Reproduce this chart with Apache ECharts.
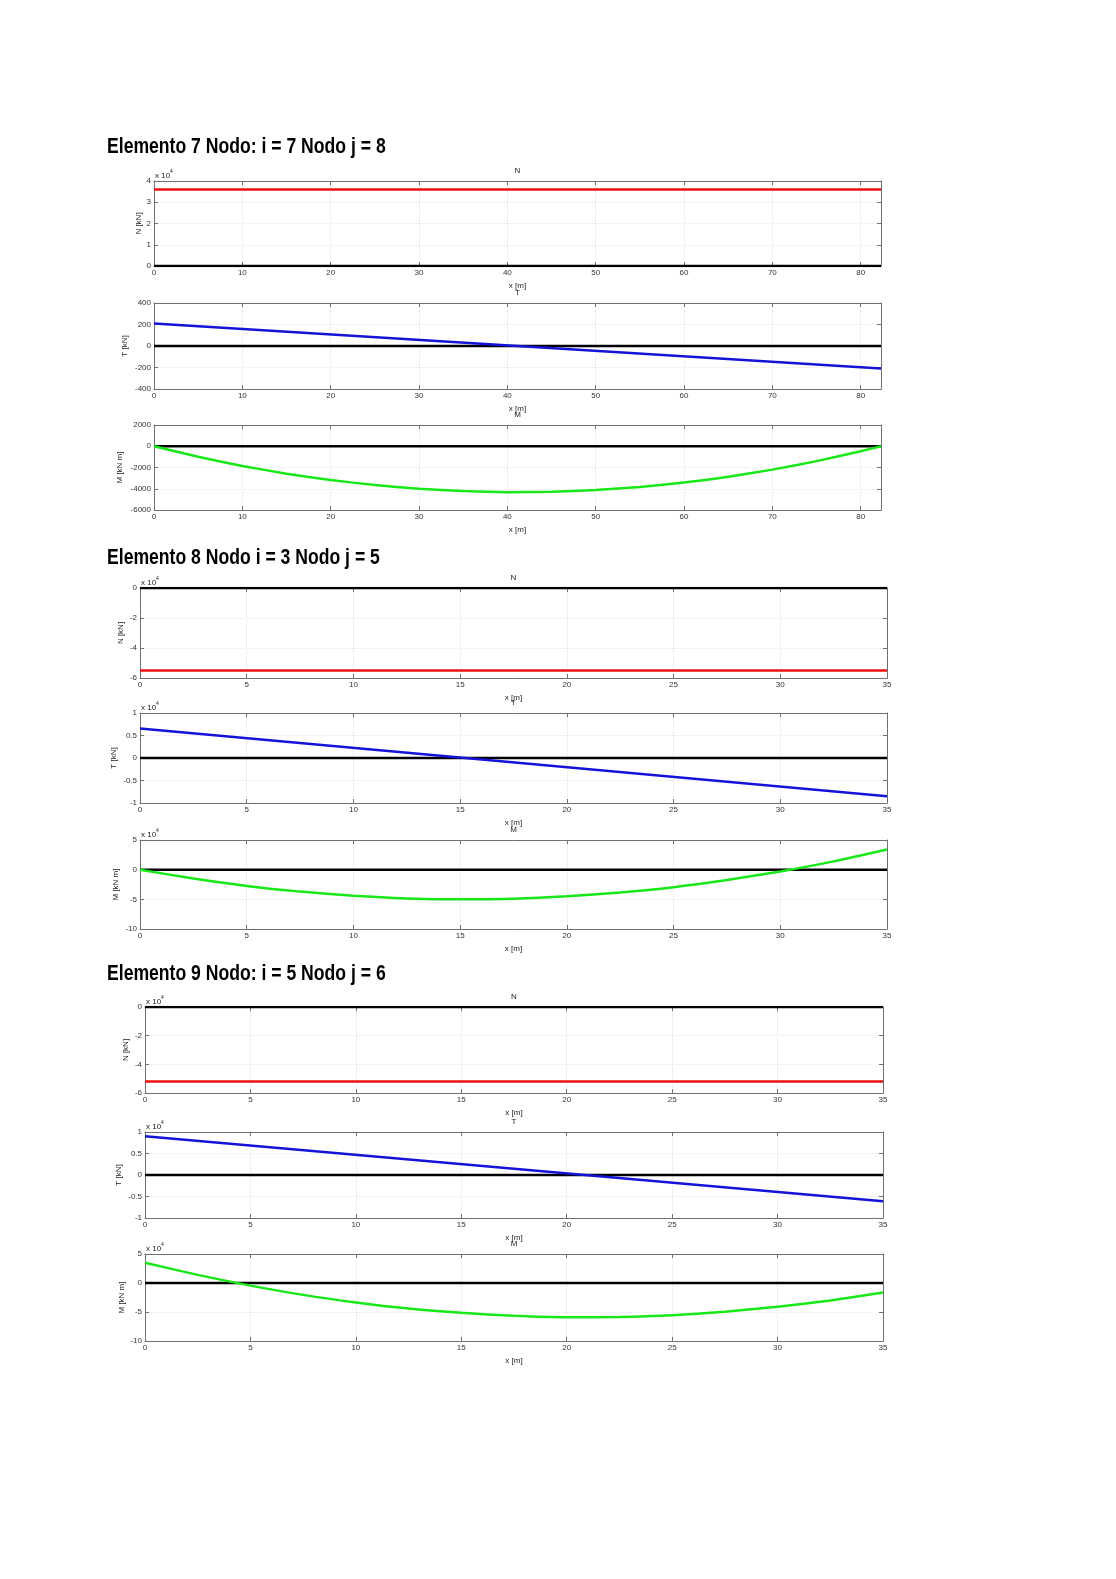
<!DOCTYPE html>
<html><head><meta charset="utf-8">
<script src="https://cdn.jsdelivr.net/npm/echarts@6/dist/echarts.min.js"></script>
<style>html,body{margin:0;padding:0;background:#fff}#c{width:1116px;height:1579px}</style>
</head><body><div id="c"></div>
<script>
// ---------- DATA (kN and kN m) ----------
const headings = ["Elemento 7 Nodo: i = 7 Nodo j = 8", "Elemento 8 Nodo i = 3 Nodo j = 5", "Elemento 9 Nodo: i = 5 Nodo j = 6"];
const panelTitles = ["N", "T", "M"];
const yNames = ["N [kN]", "T [kN]", "M [kN m]"];
const xName = "x [m]";

// Element 7 (length about 82.3 m)
const el7Ends = [0, 82.3];
const el7X = [0, 5, 10, 15, 20, 25, 30, 35, 40, 45, 50, 55, 60, 65, 70, 75, 80, 82.3];
const el7N = [36000, 36000];
const el7T = [210, -210];
const el7M = [0, -990, -1850, -2580, -3180, -3650, -4000, -4220, -4320, -4280, -4120, -3830, -3420, -2870, -2200, -1400, -470, 0];

// Element 8 (length 35 m)
const el8Ends = [0, 35];
const el8X = [0, 2.5, 5, 7.5, 10, 12.5, 15, 17.5, 20, 22.5, 25, 27.5, 30, 32.5, 35];
const el8N = [-55000, -55000];
const el8T = [6550, -8500];
const el8M = [0, -15000, -27500, -37000, -44000, -48500, -50000, -49000, -45000, -38500, -29500, -17500, -3000, 14000, 34000];

// Element 9 (length 35 m)
const el9Ends = [0, 35];
const el9X = [0, 2.5, 5, 7.5, 10, 12.5, 15, 17.5, 20, 22.5, 25, 27.5, 30, 32.5, 35];
const el9N = [-52000, -52000];
const el9T = [9000, -6100];
const el9M = [35000, 14000, -4500, -20500, -33500, -44000, -51500, -56500, -59000, -58500, -55500, -49500, -41000, -30000, -16500];

// ---------- LAYOUT ----------
const pairs = (xs, ys) => xs.map((x, k) => [x, ys[k]]);
const RED = '#ee1010', BLUE = '#1414d8', GREEN = '#18e818';

const headingY = [147, 558, 974];
const panels = [
  {L:154, R:881, T:181, B:266, xmax:82.3, xint:10, ymin:0, ymax:40000, yint:10000, exp:true, name:0, gap:11, data:pairs(el7Ends, el7N), color:RED},
  {L:154, R:881, T:303, B:389, xmax:82.3, xint:10, ymin:-400, ymax:400, yint:200, exp:false, name:1, gap:25, data:pairs(el7Ends, el7T), color:BLUE},
  {L:154, R:881, T:425, B:510, xmax:82.3, xint:10, ymin:-6000, ymax:2000, yint:2000, exp:false, name:2, gap:30, data:pairs(el7X, el7M), color:GREEN},
  {L:140, R:887, T:588, B:678, xmax:35, xint:5, ymin:-60000, ymax:0, yint:20000, exp:true, name:0, gap:15, data:pairs(el8Ends, el8N), color:RED},
  {L:140, R:887, T:713, B:803, xmax:35, xint:5, ymin:-10000, ymax:10000, yint:5000, exp:true, name:1, gap:22, data:pairs(el8Ends, el8T), color:BLUE},
  {L:140, R:887, T:840, B:929, xmax:35, xint:5, ymin:-100000, ymax:50000, yint:50000, exp:true, name:2, gap:20, data:pairs(el8X, el8M), color:GREEN},
  {L:145, R:883, T:1007, B:1093, xmax:35, xint:5, ymin:-60000, ymax:0, yint:20000, exp:true, name:0, gap:15, data:pairs(el9Ends, el9N), color:RED},
  {L:145, R:883, T:1132, B:1218, xmax:35, xint:5, ymin:-10000, ymax:10000, yint:5000, exp:true, name:1, gap:22, data:pairs(el9Ends, el9T), color:BLUE},
  {L:145, R:883, T:1254, B:1341, xmax:35, xint:5, ymin:-100000, ymax:50000, yint:50000, exp:true, name:2, gap:19, data:pairs(el9X, el9M), color:GREEN}
];

const FONT = 'Liberation Sans, Arial, sans-serif';
const FRAME = '#707070';
const option = {animation:false, backgroundColor:'#fff', grid:[], xAxis:[], yAxis:[], series:[], title:[], graphic:[]};

headings.forEach((h, i) => {
  option.graphic.push({type:'text', x:107, y:headingY[i], scaleX:0.8, silent:true,
    style:{text:h, fontFamily:'Liberation Sans, Arial, sans-serif', fontWeight:'bold', fontSize:22, fill:'#000', verticalAlign:'middle', align:'left'}});
});

panels.forEach((p, i) => {
  option.grid.push({left:p.L, top:p.T, width:p.R-p.L, height:p.B-p.T, containLabel:false});
  const xi = option.xAxis.length, yi = option.yAxis.length;
  const fmtY = p.exp ? (v => String(Math.round(v/1e3)/10)) : (v => String(v));
  option.xAxis.push({type:'value', gridIndex:i, min:0, max:p.xmax, interval:p.xint, position:'bottom',
    name:xName, nameLocation:'middle', nameGap:16, nameMoveOverlap:false, nameTextStyle:{fontSize:8, color:'#222', fontFamily:FONT},
    axisLine:{onZero:false, lineStyle:{color:FRAME, width:1}},
    axisTick:{inside:true, length:4, lineStyle:{color:FRAME}},
    axisLabel:{fontSize:8, color:'#333', margin:3, fontFamily:FONT, showMaxLabel:p.xmax===35},
    splitLine:{show:true, lineStyle:{color:'#e2e2e2', type:'dotted'}}});
  option.xAxis.push({type:'value', gridIndex:i, min:0, max:p.xmax, interval:p.xint, position:'top',
    axisLine:{onZero:false, lineStyle:{color:FRAME, width:1}},
    axisTick:{inside:true, length:4, lineStyle:{color:FRAME}}, axisLabel:{show:false}, splitLine:{show:false}});
  option.yAxis.push({type:'value', gridIndex:i, min:p.ymin, max:p.ymax, interval:p.yint, position:'left',
    name:yNames[p.name], nameLocation:'middle', nameGap:p.gap, nameMoveOverlap:false, nameTextStyle:{fontSize:8, color:'#222', fontFamily:FONT},
    axisLine:{onZero:false, show:true, lineStyle:{color:FRAME, width:1}},
    axisTick:{show:true, inside:true, length:4, lineStyle:{color:FRAME}},
    axisLabel:{fontSize:8, color:'#333', margin:3, fontFamily:FONT, formatter:fmtY},
    splitLine:{show:true, lineStyle:{color:'#e8e8e8', type:'dotted'}}});
  option.yAxis.push({type:'value', gridIndex:i, min:p.ymin, max:p.ymax, interval:p.yint, position:'right',
    axisLine:{onZero:false, show:true, lineStyle:{color:FRAME, width:1}},
    axisTick:{show:true, inside:true, length:4, lineStyle:{color:FRAME}}, axisLabel:{show:false}, splitLine:{show:false}});
  // zero reference line
  option.series.push({type:'line', xAxisIndex:xi, yAxisIndex:yi, data:[[0,0],[p.xmax,0]], symbol:'none', silent:true,
    lineStyle:{color:'#000', width:2.5}, z:2});
  option.series.push({type:'line', xAxisIndex:xi, yAxisIndex:yi, data:p.data, symbol:'none', smooth:0.2, silent:true,
    lineStyle:{color:p.color, width:2.5}, z:3});
  // panel title
  option.title.push({text:panelTitles[p.name], left:(p.L+p.R)/2, textAlign:'center', top:p.T-14, padding:0,
    textStyle:{fontSize:8, fontWeight:'normal', color:'#222', fontFamily:FONT}});
  if (p.exp) {
    option.title.push({text:'{a|x 10}{s|4}', left:p.L+1, top:p.T-12, padding:0,
      textStyle:{fontSize:8, fontWeight:'normal', color:'#222', fontFamily:FONT,
        rich:{a:{fontSize:8, color:'#222', fontFamily:FONT, lineHeight:11, verticalAlign:'bottom'},
              s:{fontSize:5, color:'#222', fontFamily:FONT, lineHeight:11, verticalAlign:'top'}}}});
  }
});

const chart = echarts.init(document.getElementById('c'), null, {renderer:'canvas'});
chart.setOption(option);
</script></body></html>
